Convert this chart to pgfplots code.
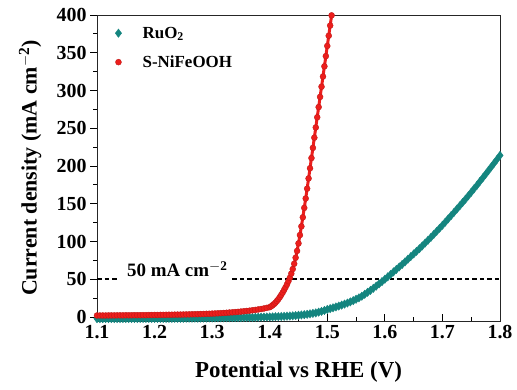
\documentclass[border=0pt]{standalone}
\usepackage{pgfplots}
\pgfplotsset{compat=1.18}
\usepackage{pgfplotstable}
\usepackage{fontspec}
\setmainfont{Liberation Serif}

\definecolor{ruteal}{RGB}{20,133,127}
\definecolor{nfred}{RGB}{236,30,28}

% RuO2 polarisation curve (potential in V vs RHE, current density in mA cm^-2)
\pgfplotstableread{
E J
1.100 -2.2
1.105 -2.2
1.110 -2.2
1.115 -2.1
1.120 -2.1
1.125 -2.1
1.130 -2.1
1.135 -2.1
1.140 -2.0
1.145 -2.0
1.150 -2.0
1.155 -2.0
1.160 -2.0
1.165 -2.0
1.170 -2.0
1.175 -1.9
1.180 -1.9
1.185 -1.9
1.190 -1.9
1.195 -1.9
1.200 -1.9
1.205 -1.8
1.210 -1.8
1.215 -1.8
1.220 -1.8
1.225 -1.8
1.230 -1.8
1.235 -1.7
1.240 -1.7
1.245 -1.7
1.250 -1.7
1.255 -1.6
1.260 -1.6
1.265 -1.6
1.270 -1.5
1.275 -1.5
1.280 -1.5
1.285 -1.4
1.290 -1.4
1.295 -1.3
1.300 -1.3
1.305 -1.2
1.310 -1.2
1.315 -1.1
1.320 -1.1
1.325 -1.0
1.330 -1.0
1.335 -0.9
1.340 -0.9
1.345 -0.8
1.350 -0.8
1.355 -0.7
1.360 -0.6
1.365 -0.6
1.370 -0.5
1.375 -0.4
1.380 -0.3
1.385 -0.2
1.390 -0.1
1.395 0.0
1.400 0.1
1.405 0.2
1.410 0.4
1.415 0.5
1.420 0.7
1.425 0.9
1.430 1.1
1.435 1.3
1.440 1.6
1.445 1.9
1.450 2.3
1.455 2.7
1.460 3.1
1.465 3.6
1.470 4.2
1.475 4.8
1.480 5.5
1.485 6.5
1.490 7.5
1.495 8.7
1.500 10.0
1.505 11.1
1.510 12.2
1.515 13.3
1.520 14.5
1.525 15.8
1.530 17.1
1.535 18.5
1.540 20.0
1.545 21.7
1.550 23.5
1.555 25.4
1.560 27.5
1.565 30.1
1.570 32.7
1.575 35.3
1.580 38.0
1.585 40.9
1.590 43.9
1.595 46.9
1.600 50.0
1.605 53.2
1.610 56.4
1.615 59.7
1.620 63.0
1.625 66.3
1.630 69.6
1.635 73.0
1.640 76.5
1.645 80.0
1.650 83.5
1.655 87.0
1.660 90.5
1.665 94.2
1.670 98.0
1.675 101.7
1.680 105.5
1.685 109.5
1.690 113.5
1.695 117.5
1.700 121.5
1.705 125.7
1.710 130.0
1.715 134.2
1.720 138.5
1.725 142.9
1.730 147.2
1.735 151.6
1.740 156.0
1.745 160.6
1.750 165.2
1.755 169.9
1.760 174.5
1.765 179.4
1.770 184.2
1.775 189.1
1.780 194.0
1.785 199.0
1.790 204.0
1.795 209.0
1.800 214.0
}\ruo

% S-NiFeOOH polarisation curve
\pgfplotstableread{
E J
1.100 2.0
1.105 2.0
1.110 2.0
1.115 2.0
1.120 2.1
1.125 2.1
1.130 2.1
1.135 2.2
1.140 2.2
1.145 2.2
1.150 2.3
1.155 2.3
1.160 2.3
1.165 2.4
1.170 2.4
1.175 2.4
1.180 2.5
1.185 2.5
1.190 2.6
1.195 2.6
1.200 2.7
1.205 2.7
1.210 2.8
1.215 2.8
1.220 2.9
1.225 3.0
1.230 3.0
1.235 3.1
1.240 3.2
1.245 3.2
1.250 3.3
1.255 3.4
1.260 3.5
1.265 3.6
1.270 3.7
1.275 3.8
1.280 3.9
1.285 4.0
1.290 4.2
1.295 4.3
1.300 4.5
1.305 4.7
1.310 4.9
1.315 5.1
1.320 5.3
1.325 5.6
1.330 5.9
1.335 6.2
1.340 6.5
1.345 6.8
1.350 7.2
1.355 7.6
1.360 8.0
1.365 8.4
1.370 8.9
1.375 9.4
1.380 10.0
1.385 10.6
1.390 11.3
1.395 12.1
1.400 13.0
1.4025 14.2
1.4050 15.6
1.4075 17.2
1.4100 19.0
1.4125 21.2
1.4150 23.6
1.4175 26.3
1.4200 29.2
1.4225 32.4
1.4250 35.8
1.4275 39.4
1.4300 43.2
1.4325 47.5
1.4350 52.0
1.4375 57.5
1.4400 63.5
1.4425 70.5
1.4450 78.5
1.4475 87.5
1.4500 97.5
1.4525 108.5
1.4550 120.0
1.4575 132.0
1.4600 144.5
1.4625 157.0
1.4650 170.0
1.4675 183.5
1.4700 197.0
1.4725 210.5
1.4750 224.0
1.4775 237.5
1.4800 251.0
1.4825 264.5
1.4850 278.0
1.4875 291.5
1.4900 305.0
1.4925 318.5
1.4950 332.0
1.4975 345.5
1.5000 359.0
1.5025 372.5
1.5050 386.0
1.5075 399.5
1.5100 413.0
}\nife

\begin{document}
\begin{tikzpicture}
\begin{axis}[
  scale only axis,
  width=403bp, height=306bp,
  xmin=1.1, xmax=1.8,
  ymin=-5.3, ymax=400,
  xtick={1.1,1.2,...,1.8},
  ytick={0,50,...,400},
  minor x tick num=1,
  minor y tick num=1,
  tick pos=left,
  xtick align=inside,
  ytick align=outside,
  major tick length=7bp,
  minor tick length=4bp,
  every tick/.style={black, line width=0.9bp},
  axis line style={line width=0.9bp, black!85},
  /pgf/number format/assume math mode=true,
  /pgf/number format/fixed,
  /pgf/number format/precision=1,
  xticklabel style={font=\fontsize{20}{20}\selectfont\bfseries, yshift=-1bp},
  yticklabel style={font=\fontsize{20}{20}\selectfont\bfseries},
  xlabel={Potential vs RHE (V)},
  ylabel={Current density (mA cm\textsuperscript{$-$2})},
  xlabel style={font=\fontsize{23}{23}\selectfont\bfseries,
    at={(axis description cs:0.5,-0.167)}, anchor=center},
  ylabel style={font=\fontsize{22}{22}\selectfont\bfseries,
    at={(axis description cs:-0.166,0.5)}, anchor=center},
  legend image code/.code={
    \path (0bp,-4bp) (30bp,4bp);
    \draw[#1] plot coordinates {(8bp,0bp)};},
  legend style={draw=none, fill=none, at={(axis description cs:0.025,0.975)},
    anchor=north west, row sep=12bp,
    font=\fontsize{17}{17}\selectfont\bfseries},
  legend cell align=left,
  clip=true,
]
% connecting lines underneath the markers
\addplot[forget plot, ruteal, line width=3bp] table[x=E, y=J] {\ruo};
\addplot[only marks, ruteal, mark=diamond*, mark size=4.2bp,
  mark options={fill=ruteal, draw=ruteal, line width=0.4bp}] table[x=E, y=J] {\ruo};
\addlegendentry{RuO\textsubscript{2}}
\addplot[forget plot, nfred, line width=3bp] table[x=E, y=J] {\nife};
\addplot[only marks, nfred, mark=*, mark size=3bp,
  mark options={fill=nfred, draw=nfred!80!black, line width=0.35bp}] table[x=E, y=J] {\nife};
\addlegendentry{S-NiFeOOH}

% 50 mA cm^-2 reference level
\addplot[forget plot, black, line width=1.8bp, dash pattern=on 4.5bp off 3bp]
  coordinates {(1.1,50) (1.135,50)};
\addplot[forget plot, black, line width=1.8bp, dash pattern=on 4.5bp off 3bp]
  coordinates {(1.335,50) (1.8,50)};
\node[anchor=base west, font=\fontsize{19}{19}\selectfont\bfseries, inner sep=0pt]
  at (axis cs:1.152,53) {50 mA cm\textsuperscript{$-$2}};
\end{axis}
\pgfresetboundingbox
\path ([shift={(-97bp,-68bp)}]current axis.south west)
  rectangle ([shift={(17bp,15bp)}]current axis.north east);
\end{tikzpicture}
\end{document}
